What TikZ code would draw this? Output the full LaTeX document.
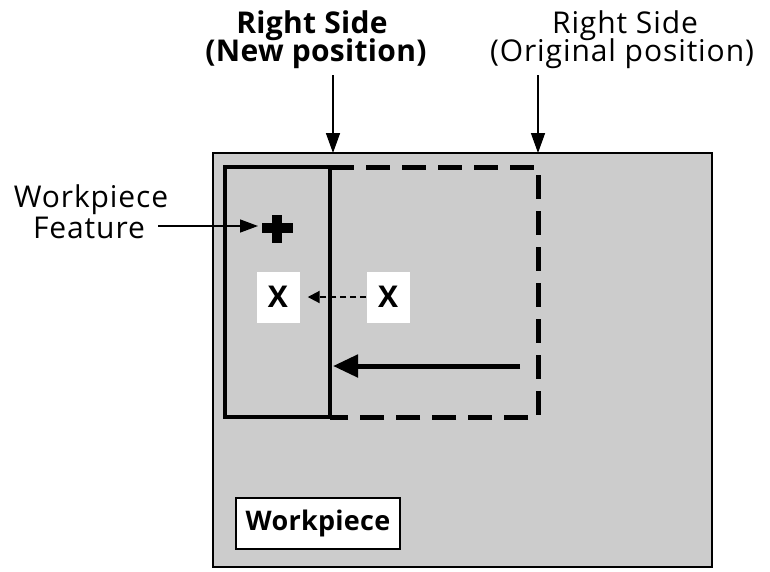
\documentclass[tikz,border=0pt]{standalone}
\usepackage{fontspec}
\setmainfont{Open Sans}[LetterSpace=3]
\newfontfamily\boldlab{Open Sans}[LetterSpace=1,UprightFont={* Bold}]
\usetikzlibrary{arrows.meta}
\definecolor{stipple}{gray}{0.8}
\begin{document}
\begin{tikzpicture}[x=1pt,y=-1pt,
  lab/.style={inner sep=0pt,anchor=base,font=\fontsize{30}{30}\selectfont},
  blab/.style={inner sep=0pt,anchor=base,font=\fontsize{30}{30}\selectfont\boldlab},
  thinarrow/.style={line width=1.5pt,-{Triangle[length=18pt,width=13pt]}},
  posarrow/.style={line width=1.5pt,-{Triangle[length=20pt,width=14pt]}},
  movearrow/.style={line width=5pt,-{Triangle[length=25pt,width=22pt]}},
  dasharrow/.style={line width=2pt,dash pattern=on 6pt off 4pt,-{Triangle[length=12pt,width=12pt]}},
  newside/.style={line width=4pt},
  oldside/.style={line width=5pt,dash pattern=on 24pt off 12pt},
  xbox/.style={fill=white,inner sep=0pt,minimum width=43pt,minimum height=51pt,font=\fontsize{30}{30}\selectfont\boldlab}
]
\useasboundingbox (0,0) rectangle (770,571);
\fill[white] (0,0) rectangle (770,571);

% workpiece
\node[draw,line width=1.8pt,fill=stipple,inner sep=0pt,outer sep=0pt,
      minimum width=499pt,minimum height=414pt,anchor=north west] (work) at (213,153) {};

% original right side (dashed)
\coordinate (o1) at (330,167);
\coordinate (o2) at (538,167);
\coordinate (o3) at (538,417);
\coordinate (o4) at (330,417);
\draw[oldside] (o1) -- (o2) -- (o3) -- (o4);

% new position (solid)
\node[draw,newside,inner sep=0pt,outer sep=0pt,minimum width=105pt,minimum height=250pt,anchor=north west] (newrect) at (225,167) {};

% workpiece feature (plus)
\fill[black] (262,223) rectangle (293,233);
\fill[black] (272,215) rectangle (282,243);
\coordinate (plusw) at (258,226);

% X marks
\node[xbox] (xl) at (278,297) {X};
\node[xbox] (xr) at (388,297) {X};
\draw[dasharrow] (xr.west) -- ([xshift=8pt]xl.east);

% move arrow
\coordinate (mvs) at (520,366);
\coordinate (mve) at (333,366);
\draw[movearrow] (mvs) -- (mve);

% top labels
\node[blab] (rn1) at (312,33) {Right Side};
\node[blab] (rn2) at (316,61) {(New position)};
\node[lab] (ro1) at (625,33) {Right Side};
\node[lab] (ro2) at (622,61) {(Original position)};
\coordinate (an) at (333,75);
\coordinate (ao) at (538,75);
\draw[posarrow] (an) -- (an |- work.north);
\draw[posarrow] (ao) -- (ao |- work.north);

% workpiece feature label
\node[lab] (wf1) at (91,207) {Workpiece};
\node[lab] (wf2) at (89,238) {Feature};
\coordinate (wfs) at (158,226);
\draw[thinarrow] (wfs) -- (plusw);

% workpiece label box
\node[draw,line width=2pt,fill=white,inner sep=0pt,minimum width=164pt,minimum height=51pt,
      font=\fontsize{27}{27}\selectfont\boldlab] (wlab) at (318,523) {Workpiece};
\end{tikzpicture}
\end{document}
